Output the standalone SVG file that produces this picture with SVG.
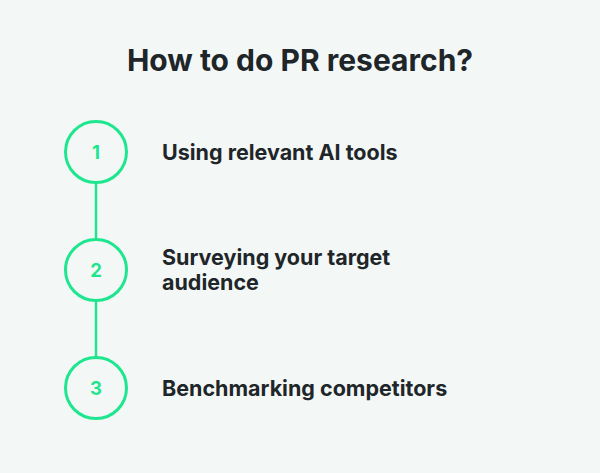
<svg xmlns="http://www.w3.org/2000/svg" width="600" height="473" viewBox="0 0 600 473">
<style>
.t{font-family:Inter,"Liberation Sans",sans-serif;font-weight:700;fill:#1f2629}
.title{font-size:30px}
.lbl{font-size:21.5px}
.c{fill:none;stroke:#1ee68e;stroke-width:3}
.n{font-family:Inter,"Liberation Sans",sans-serif;font-weight:700;font-size:18.5px;fill:#1ee68e}
.ln{stroke:#1ee68e;stroke-width:2.5}
</style>
<rect width="600" height="473" fill="#f3f8f7"/>
<text class="t title" x="300" y="71" text-anchor="middle">How to do PR research?</text>
<g id="connectors">
<line class="ln" x1="96" y1="183" x2="96" y2="239"/>
<line class="ln" x1="96" y1="301" x2="96" y2="357"/>
</g>
<g id="step1">
<circle class="c" cx="96" cy="152" r="30.5"/>
<text class="n" x="96" y="158.5" text-anchor="middle">1</text>
<text class="t lbl" x="162" y="160">Using relevant AI tools</text>
</g>
<g id="step2">
<circle class="c" cx="96" cy="270" r="30.5"/>
<text class="n" x="96" y="276.5" text-anchor="middle">2</text>
<text class="t lbl" x="162" y="265">Surveying your target</text>
<text class="t lbl" x="162" y="289.5">audience</text>
</g>
<g id="step3">
<circle class="c" cx="96" cy="388" r="30.5"/>
<text class="n" x="96" y="394.5" text-anchor="middle">3</text>
<text class="t lbl" x="162" y="396">Benchmarking competitors</text>
</g>
</svg>
